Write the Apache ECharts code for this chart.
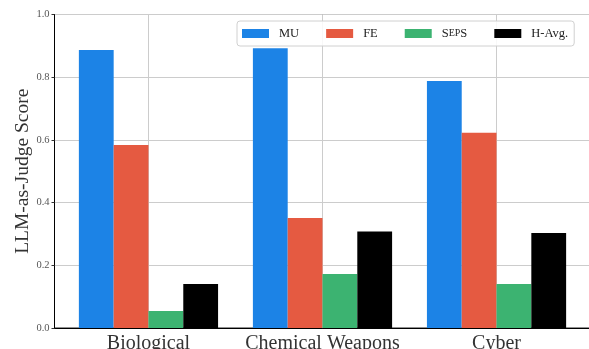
<!DOCTYPE html>
<html>
<head>
<meta charset="utf-8">
<script src="https://cdn.jsdelivr.net/npm/echarts@6/dist/echarts.min.js"></script>
<style>
  html, body { margin: 0; padding: 0; background: #fff; }
  #chart { width: 589px; height: 349px; }
</style>
</head>
<body>
<div id="chart"></div>
<script>
// Scores per hazard domain
const categories = ['Biological', 'Chemical Weapons', 'Cyber'];
const seriesNames = ['MU', 'FE', 'SepS', 'H-Avg.'];
const muScores   = [0.887, 0.892, 0.788];
const feScores   = [0.584, 0.351, 0.623];
const sepsScores = [0.054, 0.172, 0.140];
const hAvgScores = [0.140, 0.308, 0.303];
const yTicks = [0.0, 0.2, 0.4, 0.6, 0.8, 1.0];

const colors = ['#1c83e6', '#e55a41', '#3cb371', '#000000'];
const allScores = [muScores, feScores, sepsScores, hAvgScores];
const serif = '"Liberation Serif", "DejaVu Serif", serif';

const chart = echarts.init(document.getElementById('chart'), null, { renderer: 'canvas' });

const series = seriesNames.map((name, i) => ({
  name: name,
  type: 'bar',
  barWidth: 34.8,
  barGap: '0%',
  itemStyle: { color: colors[i] },
  data: allScores[i].map((v, k) => [k, v])
}));

chart.setOption({
  animation: false,
  grid: {
    left: 54.5, top: 14.5, width: 536, height: 313.5,
    outerBoundsMode: 'none',
    containLabel: false,
    show: true, borderColor: '#222', borderWidth: 1, backgroundColor: 'transparent'
  },
  legend: {
    left: 237, top: 21,
    padding: [6, 6, 6, 5],
    itemWidth: 27, itemHeight: 9, itemGap: 27,
    icon: 'rect',
    borderColor: '#d0d0d0', borderWidth: 1, borderRadius: 3,
    backgroundColor: 'rgba(255,255,255,0.85)',
    data: seriesNames,
    formatter: function (name) {
      if (name === 'SepS') return '{big|S}{small|EP}{big|S}';
      return '{big|' + name + '}';
    },
    textStyle: {
      fontFamily: serif, fontSize: 12.5, color: '#222', lineHeight: 11,
      padding: [0, 0, 0, 5],
      rich: {
        big: { fontFamily: serif, fontSize: 12.5, color: '#222', lineHeight: 11 },
        small: { fontFamily: serif, fontSize: 10, color: '#222', lineHeight: 11 }
      }
    }
  },
  xAxis: {
    type: 'value',
    min: -0.54, max: 2.54,
    axisLine: { show: true, onZero: false, lineStyle: { color: '#000', width: 1 } },
    axisTick: { show: false, customValues: [0, 1, 2] },
    splitLine: { show: true, lineStyle: { color: '#cccccc', width: 1 } },
    axisLabel: {
      customValues: [0, 1, 2],
      formatter: v => categories[Math.round(v)],
      fontFamily: serif, fontSize: 20, color: '#333', margin: 6
    }
  },
  yAxis: {
    type: 'value',
    min: 0, max: 1, interval: 0.2,
    name: 'LLM-as-Judge Score',
    nameLocation: 'middle',
    nameGap: 22,
    nameMoveOverlap: false,
    nameTextStyle: { fontFamily: serif, fontSize: 19.5, color: '#333' },
    axisLine: { show: true, onZero: false, lineStyle: { color: '#000', width: 1 } },
    axisTick: { show: true, length: 3, inside: false, lineStyle: { color: '#333' } },
    splitLine: { show: true, lineStyle: { color: '#cccccc', width: 1 } },
    axisLabel: {
      formatter: v => v.toFixed(1),
      fontFamily: serif, fontSize: 10.5, color: '#555', margin: 5
    }
  },
  series: series
});
</script>
</body>
</html>
